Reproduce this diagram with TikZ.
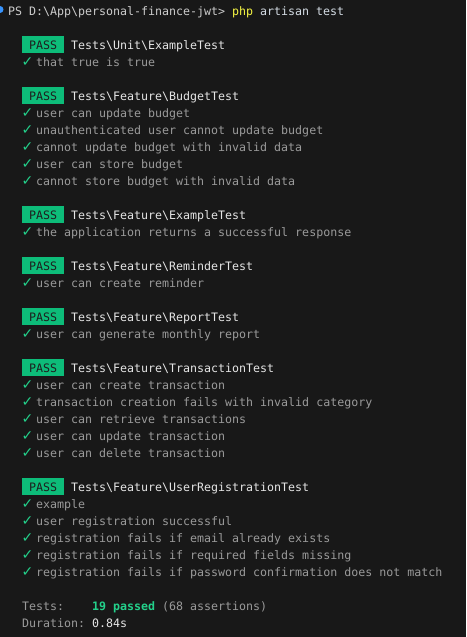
\documentclass[tikz,border=0pt]{standalone}
\usepackage{fontspec}
\setmonofont{DejaVu Sans Mono}
\newfontfamily\checkfont{DejaVu Sans}
\usepackage{xcolor}
\definecolor{termbg}{HTML}{181818}
\definecolor{termfg}{HTML}{CCCCCC}
\definecolor{suitefg}{HTML}{E5E5E5}
\definecolor{itemfg}{HTML}{9A9A9A}
\definecolor{tickgreen}{HTML}{23D18B}
\definecolor{passgreen}{HTML}{0DBC79}
\definecolor{passtext}{HTML}{1E1E1E}
\definecolor{cmdyellow}{HTML}{F5F543}
\definecolor{argfg}{HTML}{D4DCE4}
\definecolor{dotblue}{HTML}{3794FF}
\newcommand{\bsl}{\textbackslash{}}

\begin{document}
\begin{tikzpicture}[x=1pt,y=-1pt,
    every node/.style={inner sep=0pt,anchor=base west,font=\ttfamily\fontsize{11.63}{17}\selectfont},
    plain/.style={text=termfg},
    suite/.style={text=suitefg},
    item/.style={text=itemfg},
    tick/.style={text=tickgreen,font=\checkfont\fontsize{14}{17}\selectfont},
    passbox/.style={fill=passgreen,text=passtext,inner xsep=7pt,text height=13pt,text depth=3.5pt}]
    % Window
    \fill[termbg] (0,0) rectangle (466,637);
    \useasboundingbox (0,0) rectangle (466,637);

    % Prompt
    \fill[dotblue] (0,9.5) circle (3.5);
    \node[plain] (prompt) at (8,15) {PS D:\bsl App\bsl personal-finance-jwt>};
    \node[text=cmdyellow] (cmd) at (232,15) {php};
    \node[text=argfg] (args) at (260,15) {artisan test};

    % Unit tests
    \node[passbox] (pass1) at (22,49) {PASS};
    \node[suite] (unit) at (71,49) {Tests\bsl Unit\bsl ExampleTest};
    \node[tick] (unitck1) at (21.5,66) {✓};
    \node[item] (unit1) at (36,66) {that true is true};

    % Budget
    \node[passbox] (pass2) at (22,100) {PASS};
    \node[suite] (budget) at (71,100) {Tests\bsl Feature\bsl BudgetTest};
    \foreach \txt [count=\i] in {user can update budget,
        unauthenticated user cannot update budget,
        cannot update budget with invalid data,
        user can store budget,
        cannot store budget with invalid data} {
        \node[tick] (budck\i) at (21.5,{100+17*\i}) {✓};
        \node[item] (bud\i) at (36,{100+17*\i}) {\txt};
    }

    % Feature example
    \node[passbox] (pass3) at (22,219) {PASS};
    \node[suite] (example) at (71,219) {Tests\bsl Feature\bsl ExampleTest};
    \node[tick] (exck1) at (21.5,236) {✓};
    \node[item] (ex1) at (36,236) {the application returns a successful response};

    % Reminder
    \node[passbox] (pass4) at (22,270) {PASS};
    \node[suite] (reminder) at (71,270) {Tests\bsl Feature\bsl ReminderTest};
    \node[tick] (remck1) at (21.5,287) {✓};
    \node[item] (rem1) at (36,287) {user can create reminder};

    % Report
    \node[passbox] (pass5) at (22,321) {PASS};
    \node[suite] (report) at (71,321) {Tests\bsl Feature\bsl ReportTest};
    \node[tick] (repck1) at (21.5,338) {✓};
    \node[item] (rep1) at (36,338) {user can generate monthly report};

    % Transaction
    \node[passbox] (pass6) at (22,372) {PASS};
    \node[suite] (transaction) at (71,372) {Tests\bsl Feature\bsl TransactionTest};
    \foreach \txt [count=\i] in {user can create transaction,
        transaction creation fails with invalid category,
        user can retrieve transactions,
        user can update transaction,
        user can delete transaction} {
        \node[tick] (trck\i) at (21.5,{372+17*\i}) {✓};
        \node[item] (tr\i) at (36,{372+17*\i}) {\txt};
    }

    % User registration
    \node[passbox] (pass7) at (22,491) {PASS};
    \node[suite] (registration) at (71,491) {Tests\bsl Feature\bsl UserRegistrationTest};
    \foreach \txt [count=\i] in {example,
        user registration successful,
        registration fails if email already exists,
        registration fails if required fields missing,
        registration fails if password confirmation does not match} {
        \node[tick] (regck\i) at (21.5,{491+17*\i}) {✓};
        \node[item] (reg\i) at (36,{491+17*\i}) {\txt};
    }

    % Summary
    \node[item] (testslbl) at (22,610) {Tests:};
    \node[text=tickgreen,font=\ttfamily\bfseries\fontsize{11.63}{17}\selectfont] (passed) at (92,610) {19 passed};
    \node[item] (assertions) at (162,610) {(68 assertions)};
    \node[item] (durlbl) at (22,627) {Duration:};
    \node[suite] (duration) at (92,627) {0.84s};
\end{tikzpicture}
\end{document}
